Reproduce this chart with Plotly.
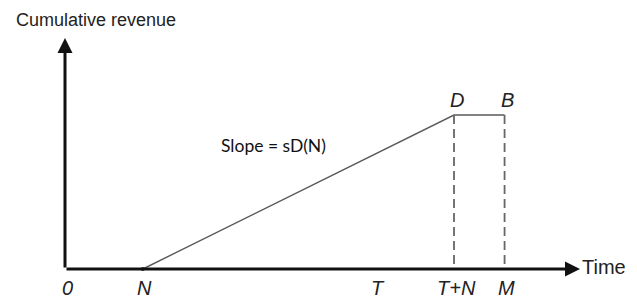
import plotly.graph_objects as go

# Data (abstract units)
tick_labels = ["0", "N", "T", "T+N", "M"]
tick_values = [0, 1, 4, 5, 5.65]
curve_time = [1, 5, 5.65]
curve_revenue = [0, 1, 1]
point_labels = ["D", "B"]
point_times = [5, 5.65]
point_revenue = [1, 1]
slope_text = "Slope = sD(N)"
y_title = "Cumulative revenue"
x_title = "Time"

OFF = 8  # page body margin
W, H = 637 - OFF, 298 - OFF
X0PX, Y0PX = 65 - OFF, 269 - OFF
XU, YU = 77.8, 154.0
xr = [-X0PX / XU, (W - X0PX) / XU]
yr = [-(H - Y0PX) / YU, Y0PX / YU]

fig = go.Figure()

# revenue curve
fig.add_trace(go.Scatter(x=curve_time, y=curve_revenue, mode="lines",
                         line=dict(color="#5a5a5a", width=1.4), hoverinfo="skip"))
# dashed verticals
for t, r in zip(point_times, point_revenue):
    fig.add_trace(go.Scatter(x=[t, t], y=[r, 0], mode="lines",
                             line=dict(color="#666666", width=1.8, dash="9px,5px"),
                             hoverinfo="skip"))
# dot at N
fig.add_trace(go.Scatter(x=[curve_time[0]], y=[curve_revenue[0]], mode="markers",
                         marker=dict(color="#333", size=4), hoverinfo="skip"))

# axes as arrows
x_tip = (580 - 65) / XU
y_tip = (269 - 38) / YU
fig.add_annotation(x=x_tip, y=0, ax=0, ay=0, xref="x", yref="y", axref="x", ayref="y",
                   showarrow=True, arrowhead=2, arrowsize=1, arrowwidth=3,
                   arrowcolor="#111", text="")
fig.add_annotation(x=0, y=y_tip, ax=0, ay=0, xref="x", yref="y", axref="x", ayref="y",
                   showarrow=True, arrowhead=2, arrowsize=1, arrowwidth=3,
                   arrowcolor="#111", text="")

lab_font = dict(family="Liberation Sans", size=20, color="#222")
# tick labels
for lab, v in zip(tick_labels, tick_values):
    fig.add_annotation(x=v, y=0, xref="x", yref="y", yshift=-19, xshift=2,
                       text=f"<i>{lab}</i>", showarrow=False, font=lab_font)
# point labels
for lab, t, r in zip(point_labels, point_times, point_revenue):
    fig.add_annotation(x=t, y=r, xref="x", yref="y", yshift=15, xshift=3,
                       text=f"<i>{lab}</i>", showarrow=False, font=lab_font)

fig.add_annotation(x=(273 - 65) / XU, y=(269 - 145) / YU, xref="x", yref="y",
                   text=slope_text, showarrow=False,
                   font=dict(family="Lato", size=17.5, color="#111"))
fig.add_annotation(x=(14 - OFF) / W, y=1 - (20 - OFF) / H, xref="paper", yref="paper",
                   text=y_title, showarrow=False, xanchor="left", yanchor="middle",
                   font=dict(family="Liberation Sans", size=18, color="#222"))
fig.add_annotation(x=x_tip, y=0, xref="x", yref="y", xanchor="left", xshift=0, yshift=2,
                   text=x_title, showarrow=False,
                   font=dict(family="Liberation Sans", size=20, color="#222"))

fig.update_layout(width=W, height=H, margin=dict(l=0, r=0, t=0, b=0),
                  paper_bgcolor="white", plot_bgcolor="white", showlegend=False,
                  xaxis=dict(range=xr, visible=False, fixedrange=True),
                  yaxis=dict(range=yr, visible=False, fixedrange=True))
fig.write_html("out.html")
